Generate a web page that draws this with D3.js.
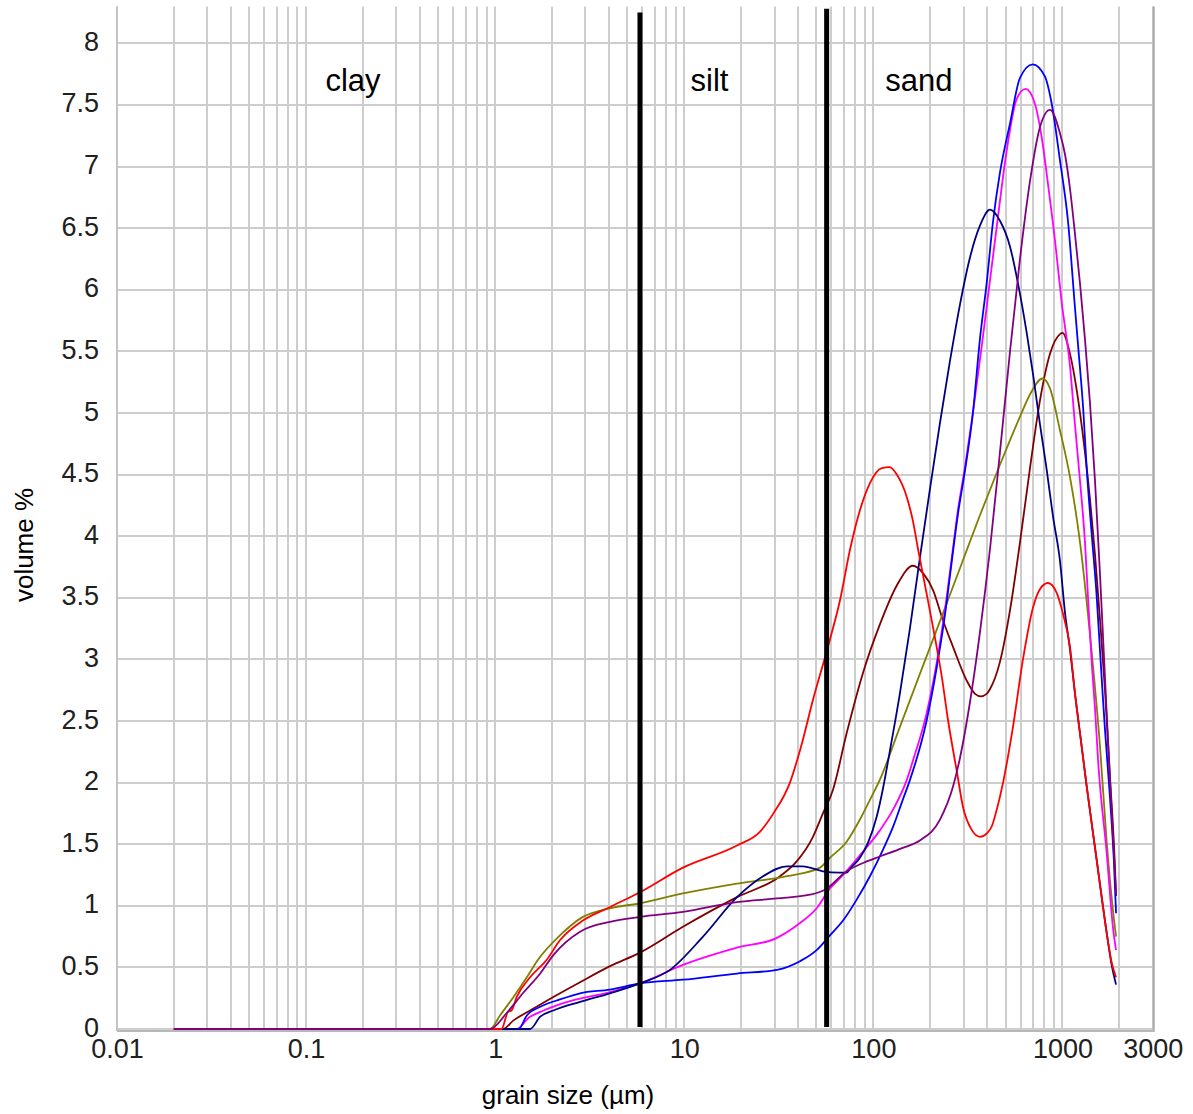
<!DOCTYPE html>
<html>
<head>
<meta charset="utf-8">
<script src="https://cdn.jsdelivr.net/npm/d3@7"></script>
<style>
  body { margin: 0; background: #ffffff; }
  svg { display: block; }
</style>
</head>
<body>
<svg id="chart" width="1193" height="1114"></svg>
<script>
// ---------------- DATA ----------------
const xTickValues = [0.01, 0.1, 1, 10, 100, 1000, 3000];
const xTickLabels = ["0.01", "0.1", "1", "10", "100", "1000", "3000"];
const yTickValues = [0, 0.5, 1, 1.5, 2, 2.5, 3, 3.5, 4, 4.5, 5, 5.5, 6, 6.5, 7, 7.5, 8];

const fractionNames = ["clay", "silt", "sand"];
const fractionLabelSizes = [0.177, 13.6, 174];     // µm (label centres)
const fractionBoundaries = [5.83, 56.6];           // µm
const fractionBoundaryTops = [8.25, 8.28];         // volume %

const seriesNames = ["brown", "olive", "magenta", "blue", "navy", "red", "purple"];
const seriesColors = ["#800000", "#808000", "#ff00ff", "#0000ff", "#000080", "#ff0000", "#800080"];

// [grain size µm, volume %]
const brownSeries = [[0.02,0],[1.10,0],[1.25,0.07],[1.53,0.15],[2.03,0.26],[2.81,0.38],[4.05,0.51],[5.83,0.62],[9.84,0.83],[19.0,1.07],[32.1,1.24],[39.3,1.36],[47.9,1.56],[54.1,1.75],[61.1,1.94],[72.2,2.40],[88.1,2.89],[108,3.28],[133,3.60],[162,3.76],[183,3.70],[207,3.56],[233,3.32],[264,3.10],[311,2.83],[345,2.72],[370,2.70],[397,2.72],[414,2.76],[467,2.98],[528,3.40],[596,3.95],[673,4.55],[760,5.10],[859,5.48],[970,5.64],[1000,5.65],[1096,5.48],[1165,5.27],[1238,5.00],[1315,4.68],[1398,4.30],[1486,3.85],[1578,3.33],[1678,2.75],[1783,2.05],[1894,1.32],[1920,1.08]];
const oliveSeries = [[0.02,0],[0.94,0],[1.06,0.11],[1.25,0.26],[1.47,0.42],[1.68,0.56],[2.20,0.76],[2.91,0.91],[4.05,0.98],[5.83,1.02],[9.84,1.10],[19.0,1.18],[34.9,1.24],[52.2,1.31],[58.9,1.39],[72.2,1.52],[84.9,1.70],[95.9,1.86],[108,2.02],[138,2.45],[176,2.88],[225,3.31],[287,3.74],[366,4.17],[467,4.58],[528,4.78],[596,4.97],[673,5.15],[783,5.28],[859,5.20],[970,4.86],[1096,4.48],[1238,3.95],[1398,3.20],[1578,2.30],[1713,1.52],[1856,0.94],[1920,0.75]];
const magentaSeries = [[0.02,0],[1.30,0],[1.50,0.09],[1.80,0.15],[2.29,0.21],[4.05,0.30],[5.83,0.37],[9.84,0.52],[19.0,0.66],[30.9,0.74],[40.9,0.86],[50.1,0.98],[58.9,1.14],[69.1,1.25],[88.1,1.44],[108,1.61],[127,1.78],[150,2.02],[162,2.18],[191,2.56],[216,2.97],[239,3.40],[259,3.81],[280,4.21],[305,4.56],[336,5.00],[374,5.54],[414,6.08],[449,6.51],[507,7.13],[573,7.55],[639,7.63],[715,7.51],[776,7.24],[838,6.86],[913,6.40],[990,5.90],[1096,5.38],[1165,4.90],[1238,4.45],[1315,3.95],[1364,3.51],[1427,2.98],[1486,2.60],[1546,2.16],[1713,1.43],[1856,0.80],[1920,0.64]];
const blueSeries = [[0.02,0],[1.33,0],[1.47,0.11],[1.73,0.18],[2.20,0.24],[2.81,0.29],[4.05,0.32],[5.83,0.37],[9.84,0.40],[19.0,0.45],[30.9,0.48],[40.9,0.55],[50.1,0.64],[58.9,0.76],[69.1,0.88],[81.6,1.05],[95.9,1.24],[112,1.45],[127,1.64],[143,1.86],[156,2.02],[191,2.50],[216,2.93],[239,3.36],[259,3.78],[280,4.18],[305,4.53],[336,5.00],[366,5.60],[397,6.05],[429,6.55],[467,6.95],[528,7.35],[596,7.72],[696,7.83],[808,7.73],[877,7.51],[970,7.05],[1069,6.56],[1165,5.85],[1215,5.51],[1290,5.01],[1343,4.55],[1427,4.02],[1517,3.51],[1578,3.08],[1631,2.72],[1678,2.43],[1783,1.88],[1872,1.35],[1920,0.94]];
const navySeries = [[0.02,0],[1.53,0],[1.73,0.10],[2.03,0.15],[2.81,0.22],[4.05,0.29],[5.83,0.37],[8.40,0.48],[12.56,0.75],[19.0,1.07],[26.1,1.24],[34.9,1.32],[42.4,1.32],[54.1,1.28],[66.0,1.27],[72.5,1.27],[75.2,1.30],[84.9,1.39],[93.6,1.51],[104,1.72],[112,1.94],[122,2.25],[138,2.72],[156,3.25],[176,3.82],[199,4.38],[225,4.92],[254,5.42],[287,5.88],[324,6.26],[366,6.52],[414,6.65],[467,6.56],[528,6.35],[582,6.05],[647,5.65],[698,5.32],[760,4.91],[825,4.54],[891,4.16],[970,3.80],[1031,3.38],[1096,3.08],[1165,2.72],[1264,2.29],[1343,1.97],[1427,1.67],[1517,1.37],[1612,1.07],[1713,0.78],[1820,0.52],[1920,0.36]];
const redSeries = [[0.02,0],[1.08,0],[1.17,0.14],[1.22,0.15],[1.30,0.26],[1.53,0.42],[1.87,0.56],[2.20,0.72],[2.91,0.88],[4.05,0.99],[5.83,1.11],[9.84,1.31],[19.0,1.49],[25.1,1.60],[29.6,1.75],[36.2,2.00],[40.9,2.26],[47.9,2.67],[58.9,3.16],[66.6,3.48],[75.2,3.89],[84.9,4.21],[95.9,4.43],[110,4.55],[122,4.56],[133,4.50],[150,4.32],[162,4.12],[172,3.90],[192,3.52],[212,3.17],[230,2.86],[248,2.51],[277,2.08],[298,1.80],[330,1.62],[366,1.56],[400,1.59],[424,1.65],[449,1.78],[485,2.00],[547,2.45],[618,3.00],[698,3.42],[760,3.57],[838,3.62],[932,3.54],[1006,3.37],[1096,3.10],[1165,2.72],[1264,2.29],[1343,1.97],[1427,1.67],[1517,1.37],[1612,1.07],[1713,0.78],[1820,0.54],[1920,0.42]];
const purpleSeries = [[0.02,0],[0.94,0],[1.15,0.13],[1.40,0.29],[1.73,0.45],[2.03,0.60],[2.81,0.79],[4.05,0.87],[5.83,0.91],[9.84,0.95],[19.0,1.03],[30.9,1.06],[46.2,1.09],[55.5,1.13],[72.2,1.28],[92.2,1.36],[108,1.40],[143,1.47],[176,1.53],[225,1.70],[264,1.97],[287,2.20],[324,2.65],[366,3.22],[414,3.90],[467,4.68],[528,5.50],[596,6.25],[673,6.88],[760,7.32],[859,7.46],[970,7.27],[1031,7.10],[1096,6.82],[1165,6.45],[1238,6.05],[1315,5.60],[1398,5.08],[1486,4.45],[1578,3.70],[1678,2.85],[1783,2.02],[1894,1.27],[1920,1.10]];

const allSeries = [brownSeries, oliveSeries, magentaSeries, blueSeries, navySeries, redSeries, purpleSeries];

// ---------------- CHART ----------------
const svg = d3.select("#chart");
const plotLeft = 117, plotRight = 1152.7, plotTop = 6.4, plotBottom = 1029;
const font = "'Liberation Sans', Arial, sans-serif";

const x = d3.scaleLog().domain([0.01, 3000]).range([plotLeft, plotRight]);
const y = d3.scaleLinear().domain([0, 8.3]).range([plotBottom, plotTop]);

svg.append("rect").attr("width", 1193).attr("height", 1114).attr("fill", "#ffffff");

// grid
const grid = svg.append("g").attr("stroke", "#cdcdcd").attr("stroke-width", 2);
grid.selectAll("line.v").data(x.ticks()).join("line")
  .attr("class", "v")
  .attr("x1", d => Math.round(x(d))).attr("x2", d => Math.round(x(d)))
  .attr("y1", plotTop).attr("y2", plotBottom);
grid.selectAll("line.h").data(yTickValues).join("line")
  .attr("class", "h")
  .attr("x1", plotLeft).attr("x2", plotRight)
  .attr("y1", d => Math.round(y(d))).attr("y2", d => Math.round(y(d)));

// frame
svg.append("line").attr("x1", plotLeft).attr("x2", plotLeft).attr("y1", plotTop).attr("y2", plotBottom + 2)
  .attr("stroke", "#c4c4c4").attr("stroke-width", 2);
svg.append("line").attr("x1", plotRight + 1).attr("x2", plotRight + 1).attr("y1", plotTop).attr("y2", plotBottom + 3)
  .attr("stroke", "#a8a8a8").attr("stroke-width", 2);
svg.append("line").attr("x1", plotLeft).attr("x2", plotRight + 1).attr("y1", plotBottom + 2).attr("y2", plotBottom + 2)
  .attr("stroke", "#b8b8b8").attr("stroke-width", 2);

// axes
const yAxis = svg.append("g").attr("transform", `translate(${plotLeft},0)`)
  .call(d3.axisLeft(y).tickValues(yTickValues).tickSize(0).tickPadding(18)
    .tickFormat(d => String(d)));
yAxis.select(".domain").remove();
yAxis.selectAll("text").attr("font-family", font).attr("font-size", 27).attr("fill", "#202020")
  .attr("dy", "0.26em");

const xAxis = svg.append("g").attr("transform", `translate(0,${plotBottom})`)
  .call(d3.axisBottom(x).tickValues(xTickValues).tickSize(0).tickPadding(10)
    .tickFormat((d, i) => xTickLabels[i]));
xAxis.select(".domain").remove();
xAxis.selectAll("text").attr("font-family", font).attr("font-size", 27).attr("fill", "#202020");

// series
const line = d3.line().x(d => x(d[0])).y(d => y(d[1])).curve(d3.curveMonotoneX);
svg.append("g").selectAll("path").data(allSeries).join("path")
  .attr("d", line)
  .attr("fill", "none")
  .attr("stroke", (d, i) => seriesColors[i])
  .attr("stroke-width", 1.8)
  .attr("stroke-linejoin", "round");

// fraction boundaries
svg.append("g").selectAll("line").data(fractionBoundaries).join("line")
  .attr("x1", d => x(d)).attr("x2", d => x(d))
  .attr("y1", (d, i) => y(fractionBoundaryTops[i])).attr("y2", y(0) - 2)
  .attr("stroke", "#000000").attr("stroke-width", 5);

// fraction labels
svg.append("g").selectAll("text").data(fractionNames).join("text")
  .attr("x", (d, i) => x(fractionLabelSizes[i]))
  .attr("y", 91)
  .attr("text-anchor", "middle")
  .attr("font-family", font).attr("font-size", 31).attr("fill", "#000")
  .text(d => d);

// axis titles
svg.append("text")
  .attr("transform", "translate(33,545) rotate(-90)")
  .attr("text-anchor", "middle")
  .attr("font-family", font).attr("font-size", 26).attr("fill", "#000")
  .text("volume %");
svg.append("text")
  .attr("x", 568).attr("y", 1104)
  .attr("text-anchor", "middle")
  .attr("font-family", font).attr("font-size", 26).attr("fill", "#000")
  .text("grain size (\u00b5m)");
</script>
</body>
</html>
